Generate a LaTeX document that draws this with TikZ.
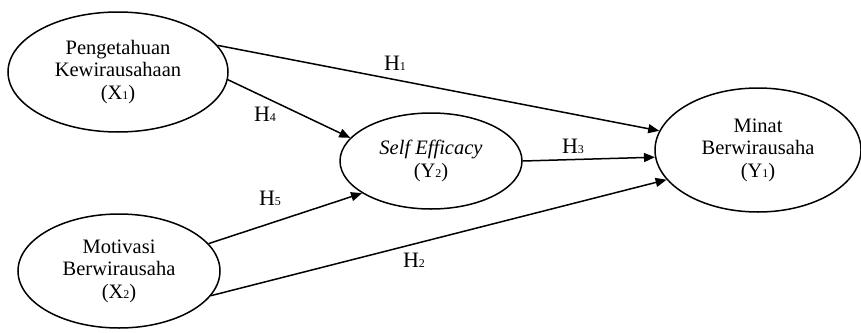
\documentclass[tikz,border=0pt]{standalone}
\usepackage{fontspec}
\setmainfont{Liberation Serif}
\usetikzlibrary{shapes.geometric,arrows.meta}
\newcommand{\mysub}[1]{{\fontsize{12}{12}\selectfont #1}}
\begin{document}
\begin{tikzpicture}[x=1pt,y=-1pt,
  var/.style={draw,ellipse,line width=1.5pt,inner sep=0pt,align=center,
    font=\fontsize{20.5}{22.5}\selectfont},
  link/.style={line width=1.5pt,-{Triangle[length=11pt,width=9pt]}},
  hlab/.style={font=\fontsize{22}{24}\selectfont,inner sep=0pt}]
\useasboundingbox (0,0) rectangle (861,332);
\node[var,minimum width=220pt,minimum height=120pt] (x1) at (118,72)
  {Pengetahuan\\Kewirausahaan\\(X\mysub{1})};
\node[var,minimum width=202pt,minimum height=114pt] (x2) at (119,271)
  {Motivasi\\Berwirausaha\\(X\mysub{2})};
\node[var,minimum width=182pt,minimum height=96pt] (y2) at (431,161)
  {\textit{Self Efficacy}\\(Y\mysub{2})};
\node[var,minimum width=206pt,minimum height=124pt] (y1) at (758,150)
  {Minat\\Berwirausaha\\(Y\mysub{1})};
\draw[link] (x1.15) -- (y1.169);
\draw[link] (x1.-4) -- (y2.164);
\draw[link] (x2.17) -- (y2.205);
\draw[link] (x2.-15) -- (y1.198);
\draw[link] (y2.0) -- (y1.184);
\node[hlab] (h1) at (395,63) {H\mysub{1}};
\node[hlab] (h4) at (265,114) {H\mysub{4}};
\node[hlab] (h5) at (270,198) {H\mysub{5}};
\node[hlab] (h2) at (414,260) {H\mysub{2}};
\node[hlab] (h3) at (573,146) {H\mysub{3}};
\end{tikzpicture}
\end{document}
